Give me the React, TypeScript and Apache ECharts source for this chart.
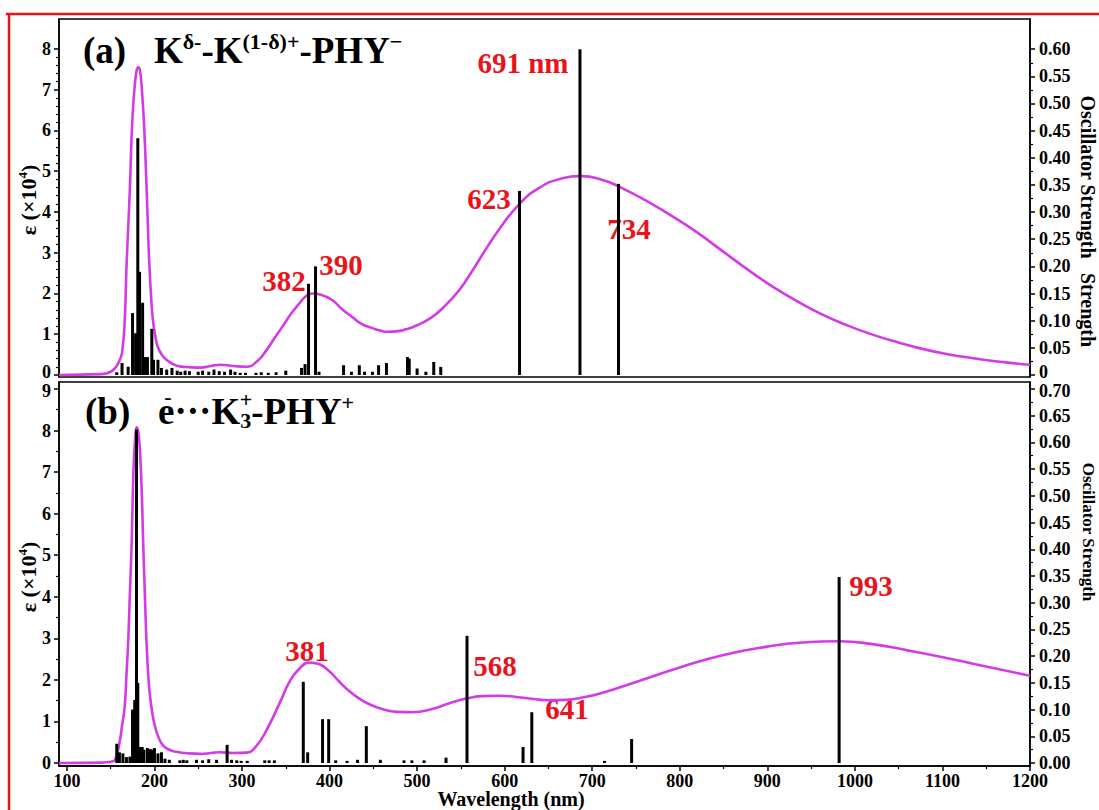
import React, { useEffect, useRef } from "react";
import * as echarts from "echarts";

const FONT = "'Liberation Serif', 'Times New Roman', serif";
const MAGENTA = "#d43be6";
const RED = "#e8141c";

// ---- tick labels ----
const wavelengthLabels = [100, 200, 300, 400, 500, 600, 700, 800, 900, 1000, 1100, 1200];
const topEpsLabels = [0, 1, 2, 3, 4, 5, 6, 7, 8];
const bottomEpsLabels = [0, 1, 2, 3, 4, 5, 6, 7, 8, 9];
const topOscLabels = [0, 0.05, 0.1, 0.15, 0.2, 0.25, 0.3, 0.35, 0.4, 0.45, 0.5, 0.55, 0.6];
const bottomOscLabels = [0, 0.05, 0.1, 0.15, 0.2, 0.25, 0.3, 0.35, 0.4, 0.45, 0.5, 0.55, 0.6, 0.65, 0.7];

// ---- panel (a): absorption curve [nm, eps x1e4] ----
const topCurve: [number, number][] = [
  [91, 0], [140, 0.02], [148, 0.06], [155, 0.17], [160, 0.35], [163, 0.55], [166, 1.3], [168, 2.6],
  [170, 3.6], [172, 4.6], [174, 5.9], [176, 6.7], [178, 7.2], [180, 7.5], [182, 7.55], [184, 7.4],
  [186, 6.9], [188, 6.2], [190, 5.2], [192, 4.0], [194, 2.8], [196, 2.0], [198, 1.4], [201, 0.95],
  [204, 0.68], [209, 0.48], [214, 0.37], [221, 0.27], [229, 0.21], [240, 0.19], [252, 0.18],
  [265, 0.22], [275, 0.25], [290, 0.22], [305, 0.2], [318, 0.35], [328, 0.61], [337, 0.9],
  [346, 1.18], [356, 1.5], [366, 1.77], [373, 1.93], [380, 2.0], [390, 1.97], [403, 1.84],
  [414, 1.62], [426, 1.42], [437, 1.25], [449, 1.15], [458, 1.09], [466, 1.06], [476, 1.07],
  [487, 1.12], [500, 1.22], [517, 1.42], [532, 1.7], [548, 2.08], [562, 2.52], [576, 3.0],
  [593, 3.55], [617, 4.2], [640, 4.6], [665, 4.82], [688, 4.88], [710, 4.8], [730, 4.63],
  [764, 4.25], [800, 3.78], [821, 3.48], [850, 3.02], [878, 2.58], [906, 2.17], [935, 1.8],
  [963, 1.48], [992, 1.21], [1020, 0.99], [1049, 0.8], [1077, 0.64], [1106, 0.51], [1135, 0.41],
  [1163, 0.33], [1200, 0.25],
];

// ---- panel (a): oscillator strengths [nm, f] ----
const topBars: [number, number][] = [
  [157, 0.005], [163, 0.022], [170, 0.015], [175, 0.114], [178.5, 0.077], [181, 0.436],
  [183, 0.19], [186.5, 0.133], [189, 0.033], [192, 0.033], [197, 0.085], [199, 0.028],
  [204, 0.028], [208, 0.013], [214, 0.01], [220, 0.013], [226, 0.008], [230, 0.006],
  [235, 0.008], [240, 0.007], [250, 0.006], [255, 0.008], [262, 0.006], [268, 0.01],
  [274, 0.007], [280, 0.006], [287, 0.01], [292, 0.006], [298, 0.004], [304, 0.004],
  [316, 0.004], [322, 0.005], [330, 0.004], [339, 0.005], [350, 0.008], [368, 0.013],
  [372, 0.02], [376, 0.168], [384, 0.2], [388, 0.006], [416, 0.018], [425, 0.006],
  [434, 0.018], [440, 0.006], [449, 0.006], [456, 0.018], [465, 0.022], [489, 0.033],
  [491, 0.03], [500, 0.012], [510, 0.006], [519, 0.024], [527, 0.015], [617, 0.339],
  [686, 0.6], [730, 0.352],
];

// ---- panel (b): absorption curve ----
const bottomCurve: [number, number][] = [
  [91, 0], [140, 0.01], [150, 0.03], [155, 0.08], [160, 0.48], [163, 0.9], [166, 1.35],
  [168, 2.1], [170, 2.9], [172, 4.1], [174, 5.3], [176, 7.0], [178, 7.8], [180, 8.08],
  [182, 7.9], [184, 7.3], [186, 6.2], [187, 5.4], [189, 4.1], [191, 2.9], [193, 2.1],
  [195, 1.6], [198, 1.15], [201, 0.85], [205, 0.6], [210, 0.42], [217, 0.32], [225, 0.27],
  [235, 0.24], [252, 0.22], [265, 0.24], [274, 0.26], [290, 0.24], [305, 0.25], [316, 0.4],
  [328, 0.79], [343, 1.44], [355, 1.98], [366, 2.28], [377, 2.42], [388, 2.38], [400, 2.2],
  [411, 1.96], [422, 1.74], [434, 1.55], [445, 1.42], [460, 1.3], [477, 1.23], [495, 1.22],
  [517, 1.3], [537, 1.44], [556, 1.55], [574, 1.61], [593, 1.62], [613, 1.59], [633, 1.54],
  [650, 1.51], [670, 1.52], [690, 1.58], [710, 1.68], [750, 1.95], [800, 2.3], [850, 2.6],
  [900, 2.8], [940, 2.9], [982, 2.93], [1020, 2.86], [1060, 2.71], [1106, 2.52], [1150, 2.32],
  [1200, 2.1],
];

// ---- panel (b): oscillator strengths ----
const bottomBars: [number, number][] = [
  [157, 0.036], [160, 0.02], [164, 0.018], [168, 0.011], [172, 0.012], [174, 0.011],
  [175, 0.1], [177.5, 0.118], [179.5, 0.624], [181, 0.15], [183, 0.03], [186, 0.03],
  [188, 0.025], [192, 0.028], [195, 0.026], [197, 0.025], [200, 0.028], [204, 0.018],
  [208, 0.02], [212, 0.008], [217, 0.006], [229, 0.005], [233, 0.006], [237, 0.005],
  [248, 0.006], [255, 0.005], [262, 0.007], [271, 0.006], [283, 0.034], [288, 0.006],
  [294, 0.005], [299, 0.004], [306, 0.004], [326, 0.005], [331, 0.005], [337, 0.005],
  [370, 0.152], [375, 0.02], [392, 0.082], [399, 0.082], [407, 0.005], [420, 0.004],
  [432, 0.006], [442, 0.069], [458, 0.006], [485, 0.005], [494, 0.005], [508, 0.005],
  [533, 0.01], [557, 0.238], [621, 0.03], [631, 0.095], [714, 0.004], [745, 0.045],
  [982, 0.348],
];

const between = (arr: number[], parts: number) => {
  const out: number[] = [];
  for (let i = 0; i < arr.length - 1; i++) {
    const step = (arr[i + 1] - arr[i]) / parts;
    for (let k = 1; k < parts; k++) out.push(+(arr[i] + step * k).toFixed(4));
  }
  return out;
};

const axisLineStyle = { color: "#000", width: 1.5 };
const labelStyle = (size: number) => ({
  color: "#000",
  fontFamily: FONT,
  fontWeight: "bold" as const,
  fontSize: size,
});
const shiftRich = (size: number) => ({
  up: { fontFamily: FONT, fontWeight: "bold", fontSize: size, color: "#000", padding: [0, 0, 6, 0] },
  dn: { fontFamily: FONT, fontWeight: "bold", fontSize: size, color: "#000", padding: [4, 0, 0, 0] },
});

function majorAxis(gridIndex: number, position: string, min: number, max: number, vals: number[], fmt: (v: number) => string, size: number, margin: number) {
  return {
    type: "value",
    gridIndex,
    position,
    min,
    max,
    axisLine: { show: true, onZero: false, lineStyle: axisLineStyle },
    axisTick: { show: true, inside: false, length: 5, customValues: vals, lineStyle: axisLineStyle },
    axisLabel: { show: true, customValues: vals, formatter: fmt, margin, rich: shiftRich(size), ...labelStyle(size) },
    splitLine: { show: false },
  };
}
function minorAxis(gridIndex: number, position: string, min: number, max: number, vals: number[]) {
  return {
    type: "value",
    gridIndex,
    position,
    min,
    max,
    axisLine: { show: false, onZero: false },
    axisTick: { show: true, inside: false, length: 3, customValues: vals, lineStyle: { color: "#000", width: 1.2 } },
    axisLabel: { show: false },
    splitLine: { show: false },
  };
}

const txt = (text: string, x: number, y: number, size: number, color = "#000", rot = 0, extra: any = {}) => ({
  type: "text",
  x,
  y,
  rotation: rot,
  silent: true,
  style: {
    text,
    fill: color,
    fontFamily: FONT,
    fontWeight: "bold",
    fontSize: size,
    align: "center",
    verticalAlign: "middle",
    textAlign: "center",
    textVerticalAlign: "middle",
    ...extra,
  },
});

export default function App() {
  const ref = useRef<HTMLDivElement>(null);
  useEffect(() => {
    const chart = echarts.init(ref.current!, undefined, { renderer: "svg", width: 1099, height: 810 });
    const intFmt = (v: number) => String(Math.round(v));
    const topIntFmt = (v: number) => (v === 0 ? "{up|0}" : String(Math.round(v)));
    const botIntFmt = (v: number) => (v === 9 ? "{dn|9}" : String(Math.round(v)));
    const topOscFmt = (v: number) => (v === 0 ? "{up|0}" : v.toFixed(2));
    const botOscFmt = (v: number) => (v === 0.7 ? "{dn|0.70}" : v.toFixed(2));
    const richMain = { fontSize: 37, fontWeight: "bold", fontFamily: FONT, fill: "#000", lineHeight: 40 };
    const richSup = { fontSize: 22, fontWeight: "bold", fontFamily: FONT, fill: "#000", verticalAlign: "top", lineHeight: 24 };
    const richSub = { fontSize: 22, fontWeight: "bold", fontFamily: FONT, fill: "#000", verticalAlign: "bottom", lineHeight: 22 };
    const epsRich = {
      n: { fontSize: 22, fontWeight: "bold", fontFamily: FONT, fill: "#000", lineHeight: 24 },
      s: { fontSize: 13, fontWeight: "bold", fontFamily: FONT, fill: "#000", verticalAlign: "top", lineHeight: 14 },
    };
    const leftAlign = { align: "left", textAlign: "left", verticalAlign: "middle", textVerticalAlign: "middle" };

    const option: any = {
      animation: false,
      backgroundColor: "#fff",
      grid: [
        { left: 59, top: 19, width: 971, height: 358, show: true, borderColor: "#000", borderWidth: 1.5, containLabel: false },
        { left: 59, top: 382, width: 971, height: 384, show: true, borderColor: "#000", borderWidth: 1.5, containLabel: false },
      ],
      xAxis: [
        {
          type: "value", gridIndex: 0, min: 91, max: 1200,
          axisLine: { show: false }, axisTick: { show: false }, axisLabel: { show: false }, splitLine: { show: false },
        },
        majorAxis(1, "bottom", 91, 1200, wavelengthLabels, intFmt, 18, 6),
        minorAxis(1, "bottom", 91, 1200, between(wavelengthLabels, 2)),
      ],
      yAxis: [
        majorAxis(0, "left", -0.05, 8.736, topEpsLabels, topIntFmt, 18, 8),
        minorAxis(0, "left", -0.05, 8.736, between(topEpsLabels, 5)),
        majorAxis(0, "right", -0.0037, 0.6556, topOscLabels, topOscFmt, 18, 9),
        minorAxis(0, "right", -0.0037, 0.6556, between(topOscLabels, 2)),
        majorAxis(1, "left", -0.072, 9.167, bottomEpsLabels, botIntFmt, 18, 8),
        minorAxis(1, "left", -0.072, 9.167, between(bottomEpsLabels, 2)),
        majorAxis(1, "right", -0.0056, 0.713, bottomOscLabels, botOscFmt, 18, 9),
        minorAxis(1, "right", -0.0056, 0.713, between(bottomOscLabels, 2)),
      ],
      series: [
        {
          type: "line", xAxisIndex: 0, yAxisIndex: 0, data: topCurve, smooth: 0.5, showSymbol: false,
          lineStyle: { color: MAGENTA, width: 2.6 }, z: 2, clip: true,
        },
        {
          type: "bar", xAxisIndex: 0, yAxisIndex: 2, data: topBars, barWidth: 3,
          itemStyle: { color: "#000" }, z: 3,
        },
        {
          type: "line", xAxisIndex: 1, yAxisIndex: 4, data: bottomCurve, smooth: 0.5, showSymbol: false,
          lineStyle: { color: MAGENTA, width: 2.6 }, z: 2, clip: true,
        },
        {
          type: "bar", xAxisIndex: 1, yAxisIndex: 6, data: bottomBars, barWidth: 3,
          itemStyle: { color: "#000" }, z: 3,
        },
      ],
      graphic: [
        { type: "line", silent: true, shape: { x1: 6, y1: 14, x2: 1099, y2: 14 }, style: { stroke: RED, lineWidth: 2.5 } },
        { type: "line", silent: true, shape: { x1: 9, y1: 13, x2: 9, y2: 810 }, style: { stroke: RED, lineWidth: 2.5 } },
        // panel titles
        {
          type: "text", x: 83, y: 50, silent: true,
          style: {
            text: "{b|(a)   K}{s|δ-}{b|-K}{s|(1-δ)+}{b|-PHY}{s|−}",
            rich: { b: richMain, s: richSup },
            ...leftAlign,
          },
        },
        {
          type: "text", x: 85, y: 411, silent: true,
          style: {
            text: "{b|(b)   e···K}{u|3}{b|-PHY}{s|+}",
            rich: { b: richMain, s: richSup, u: richSub },
            ...leftAlign,
          },
        },
        txt("-", 168, 396, 22),
        txt("+", 246, 399, 22),
        // axis titles
        txt("Wavelength (nm)", 511, 799, 20),
        {
          type: "text", x: 28, y: 200, rotation: Math.PI / 2, silent: true,
          style: { text: "{n|ε (×10}{s|4}{n|)}", rich: epsRich, align: "center", textAlign: "center", verticalAlign: "middle", textVerticalAlign: "middle" },
        },
        {
          type: "text", x: 28, y: 577, rotation: Math.PI / 2, silent: true,
          style: { text: "{n|ε (×10}{s|4}{n|)}", rich: epsRich, align: "center", textAlign: "center", verticalAlign: "middle", textVerticalAlign: "middle" },
        },
        txt("Oscillator Strength", 1088, 177, 20, "#000", -Math.PI / 2),
        txt("Strength", 1088, 310, 20, "#000", -Math.PI / 2),
        txt("Oscillator Strength", 1088, 532, 17, "#000", -Math.PI / 2),
        // annotations
        txt("691 nm", 523, 63, 29, RED),
        txt("623", 489, 199, 29, RED),
        txt("734", 629, 229, 29, RED),
        txt("382", 284, 281, 29, RED),
        txt("390", 341, 265, 29, RED),
        txt("381", 307, 651, 29, RED),
        txt("568", 495, 666, 29, RED),
        txt("641", 567, 709, 29, RED),
        txt("993", 871, 586, 29, RED),
      ],
    };
    chart.setOption(option);
    return () => chart.dispose();
  }, []);
  return (
    <div
      ref={ref}
      style={{ position: "fixed", left: 0, top: 0, width: 1099, height: 810, background: "#fff" }}
    />
  );
}
